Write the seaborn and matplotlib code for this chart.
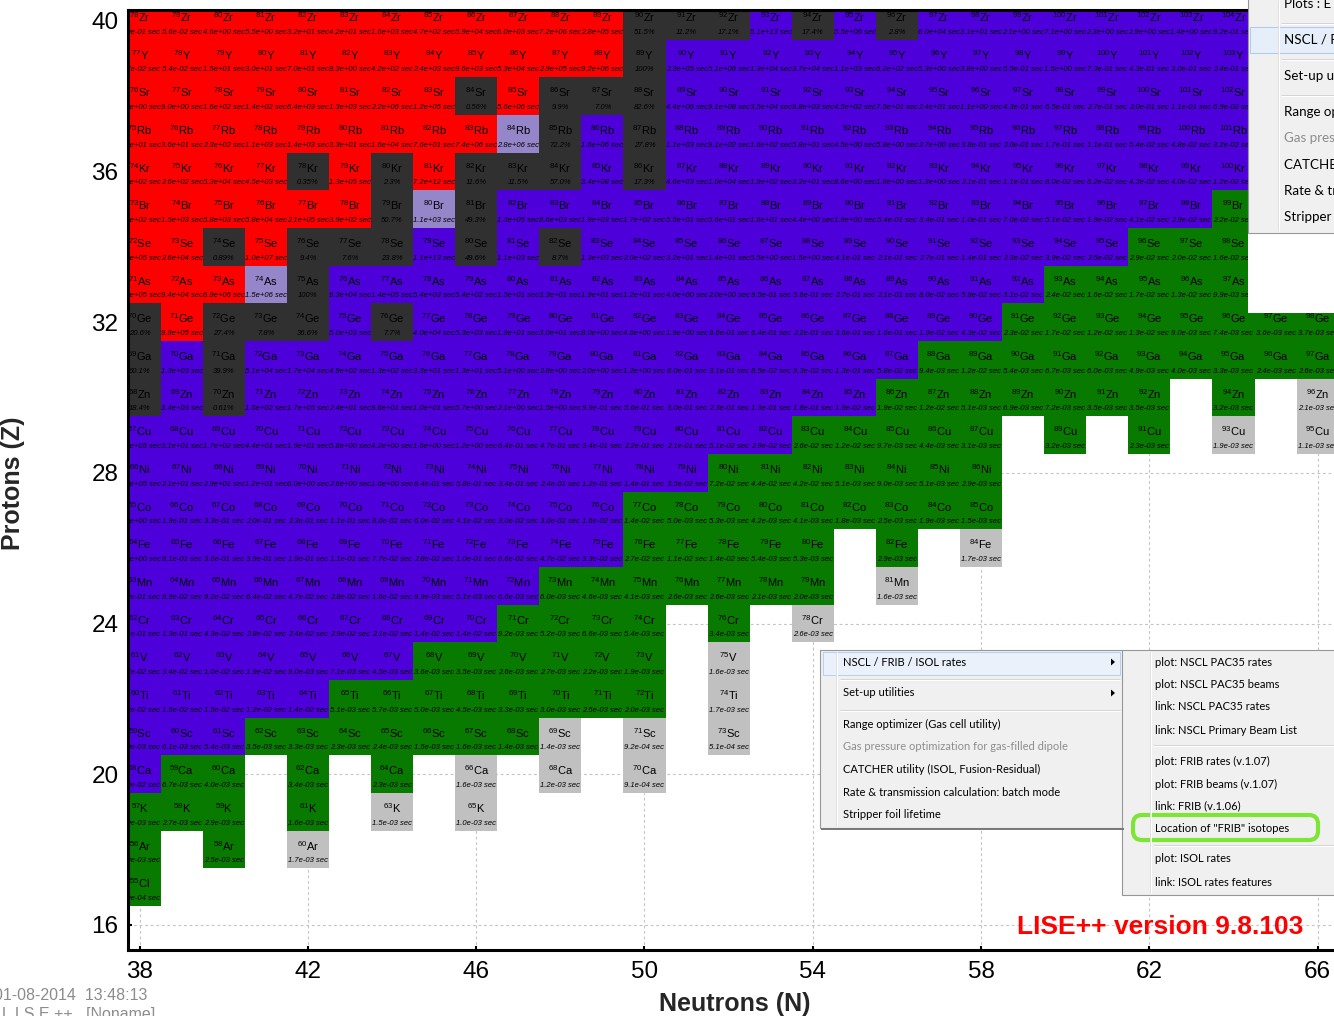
import matplotlib
matplotlib.use("Agg")
import matplotlib.pyplot as plt
from matplotlib.colors import ListedColormap
from matplotlib.patches import Rectangle, FancyBboxPatch, Polygon
import numpy as np
import pandas as pd
import seaborn as sns

W, H = 1334, 1016

# ---------------------------------------------------------------- data
neutrons = list(range(38, 67))
protons = list(range(40, 15, -1))
symbols = ["Zr", "Y", "Sr", "Rb", "Kr", "Br", "Se", "As", "Ge", "Ga", "Zn", "Cu", "Ni",
           "Co", "Fe", "Mn", "Cr", "V", "Ti", "Sc", "Ca", "K", "Ar", "Cl", "S"]

# Cell class for N = 38..66, one string per Z (40 down to 16)
# R proton-rich, S stable, B neutron-rich, G FRIB reach, U beyond reach, L mixed decay, . none
kind_rows = [
    "RRRRRRRRRRRRSSSBSBSBBBBBBBB..",  # Zr
    "RRRRRRRRRRRRSBBBBBBBBBBBBBB..",  # Y
    "RRRRRRRRSRSSSBBBBBBBBBBBBBB..",  # Sr
    "RRRRRRRRRLSBSBBBBBBBBBBBBBB..",  # Rb
    "RRRRSRSRSSSBSBBBBBBBBBBBBBB..",  # Kr
    "RRRRRRSLSBBBBBBBBBBBBBBBBBG..",  # Br
    "RRSRSSSBSBSBBBBBBBBBBBBBGGG..",  # Se
    "RRRLSBBBBBBBBBBBBBBBBBGGGGG..",  # As
    "SRSSSBSBBBBBBBBBBBBBBGGGGGGGG",  # Ge
    "SBSBBBBBBBBBBBBBBBBGGGGGGGGGG",  # Ga
    "SBSBBBBBBBBBBBBBBBGGGGGGG.G.U",  # Zn
    "BBBBBBBBBBBBBBBBGGGGG.G.G.U.U",  # Cu
    "BBBBBBBBBBBBBBGGGGGGG........",  # Ni
    "BBBBBBBBBBBBGGGGGGGGG........",  # Co
    "BBBBBBBBBBBBGGGGG.G.U........",  # Fe
    "BBBBBBBBBBGGGGGGG.U..........",  # Mn
    "BBBBBBBBBGGGG.G.U............",  # Cr
    "BBBBBBBGGGGGG.U..............",  # V
    "BBBBBGGGGGGGG.U..............",  # Ti
    "BBBGGGGGGGU.U.U..............",  # Sc
    "BGG.G.G.U.U.U................",  # Ca
    "GGG.G.U.U....................",  # K
    "G.G.U........................",  # Ar
    "G............................",  # Cl
    ".............................",  # S
]

# Half-life in seconds, or natural abundance, per cell (from N = 38)
note_rows = [
    "5.0e-01 5.6e-02 4.6e+00 5.5e+00 3.2e+01 4.2e+01 1.6e+03 4.7e+02 5.9e+04 6.0e+03 7.2e+06 2.8e+05 "
    "51.5% 11.2% 17.1% 5.1e+13 17.4% 5.5e+06 2.8% 6.0e+04 3.1e+01 2.1e+00 7.1e+00 2.3e+00 2.9e+00 1.4e+00 9.2e-01",
    "5.7e-02 5.4e-02 1.5e+01 3.0e+01 7.0e+01 8.3e+00 4.2e+02 2.4e+03 9.6e+03 5.3e+04 2.9e+05 9.2e+06 "
    "100% 2.3e+05 5.1e+06 1.3e+04 3.7e+04 1.1e+03 6.2e+02 5.3e+00 3.8e+00 5.5e-01 1.5e+00 7.3e-01 4.3e-01 3.0e-01 2.4e-01",
    "8.9e+00 9.0e+00 1.6e+02 1.4e+02 6.4e+03 1.3e+03 2.2e+06 1.2e+05 0.56% 5.6e+06 9.9% 7.0% "
    "82.6% 4.4e+06 9.1e+08 3.5e+04 9.8e+03 4.5e+02 7.5e+01 2.4e+01 1.1e+00 4.3e-01 6.5e-01 2.7e-01 2.0e-01 1.1e-01 6.9e-02",
    "1.9e+01 3.6e+01 2.3e+02 1.1e+03 1.4e+03 3.3e+01 1.6e+04 7.6e+01 7.4e+06 2.8e+06 72.2% 1.6e+06 "
    "27.8% 1.1e+03 9.1e+02 1.6e+02 5.8e+01 4.5e+00 5.8e+00 2.7e+00 3.8e-01 2.0e-01 1.7e-01 1.1e-01 5.4e-02 4.8e-02 3.2e-02",
    "6.9e+02 2.6e+02 5.3e+04 4.5e+03 0.35% 1.3e+05 2.3% 7.2e+12 11.6% 11.5% 57.0% 3.4e+08 "
    "17.3% 4.6e+03 1.0e+04 1.9e+02 3.2e+01 8.6e+00 1.8e+00 1.3e+00 2.1e-01 1.1e-01 8.0e-02 6.2e-02 4.3e-02 4.0e-02 1.2e-02",
    "2.0e+02 1.5e+03 5.8e+03 5.8e+04 2.1e+05 3.9e+02 50.7% 1.1e+03 49.3% 1.3e+05 8.6e+03 1.9e+03 "
    "1.7e+02 5.5e+01 5.6e+01 1.6e+01 4.4e+00 1.9e+00 5.4e-01 3.4e-01 1.0e-01 7.0e-02 5.1e-02 1.9e-02 4.1e-02 2.9e-02 2.2e-02",
    "7.3e+05 2.6e+04 0.89% 1.0e+07 9.4% 7.6% 23.8% 1.1e+13 49.6% 1.1e+03 8.7% 1.3e+03 "
    "2.0e+02 3.2e+01 1.4e+01 5.5e+00 1.5e+00 4.1e-01 2.1e-01 2.7e-01 1.4e-01 2.3e-02 3.9e-02 2.5e-02 2.9e-02 2.0e-02 1.6e-02",
    "2.3e+05 9.4e+04 6.9e+06 1.5e+06 100% 9.3e+04 1.4e+05 5.4e+03 5.4e+02 1.5e+01 3.3e+01 1.9e+01 "
    "1.2e+01 4.0e+00 2.0e+00 9.5e-01 5.6e-01 2.7e-01 2.1e-01 8.0e-02 5.8e-02 3.1e-02 2.4e-02 1.6e-02 1.7e-02 1.3e-02 9.9e-03",
    "20.6% 9.9e+05 27.4% 7.8% 36.6% 5.0e+03 7.7% 4.0e+04 5.3e+03 1.9e+01 3.0e+01 8.0e+00 "
    "4.6e+00 1.9e+00 9.6e-01 6.4e-01 2.2e-01 3.6e-01 1.6e-01 1.9e-02 4.3e-02 2.3e-02 1.7e-02 1.2e-02 1.3e-02 9.0e-03 7.4e-03 "
    "3.6e-03 3.7e-03",
    "60.1% 1.3e+03 39.9% 5.1e+04 1.7e+04 4.9e+02 1.3e+02 3.3e+01 1.3e+01 5.1e+00 2.8e+00 2.0e+00 "
    "1.2e+00 6.0e-01 3.1e-01 8.5e-02 9.3e-02 1.3e-01 5.8e-02 9.4e-03 1.2e-02 5.4e-03 6.7e-03 6.0e-03 4.9e-03 4.0e-03 3.3e-03 "
    "2.4e-03 2.6e-03",
    "18.4% 3.4e+03 0.61% 1.5e+02 1.7e+05 2.4e+01 9.6e+01 1.0e+01 5.7e+00 2.1e+00 1.5e+00 9.9e-01 "
    "5.6e-01 3.0e-01 2.3e-01 1.3e-01 1.8e-01 1.9e-02 1.9e-02 1.2e-02 5.1e-03 6.9e-03 7.2e-03 3.5e-03 3.5e-03 - 3.2e-03 - 2.1e-03",
    "2.2e+05 3.1e+01 1.7e+02 4.4e+01 1.9e+01 5.8e+00 4.2e+00 1.6e+00 1.2e+00 6.4e-01 4.7e-01 3.4e-01 "
    "2.2e-01 2.1e-01 5.1e-02 2.9e-02 2.6e-02 1.2e-02 9.7e-03 4.4e-03 3.1e-03 - 3.2e-03 - 2.3e-03 - 1.9e-03 - 1.1e-03",
    "2.0e+05 2.1e+01 2.9e+01 1.2e+01 6.0e+00 2.6e+00 1.6e+00 8.4e-01 5.8e-01 3.4e-01 2.4e-01 1.2e-01 "
    "1.4e-01 3.5e-02 7.2e-02 4.4e-02 4.2e-02 5.1e-03 9.0e-03 5.1e-03 2.9e-03",
    "1.2e+00 1.9e-01 3.3e-01 2.0e-01 2.3e-01 1.1e-01 8.0e-02 6.0e-02 4.1e-02 3.0e-02 3.0e-02 1.6e-02 "
    "1.4e-02 5.0e-03 5.3e-03 4.2e-03 4.1e-03 1.8e-03 2.5e-03 1.9e-03 1.5e-03",
    "2.0e+00 8.1e-01 3.6e-01 3.9e-01 1.9e-01 1.1e-01 7.7e-02 2.8e-02 1.0e-01 6.6e-02 4.7e-02 3.3e-02 "
    "2.7e-02 1.1e-02 1.4e-02 5.4e-03 5.3e-03 - 2.9e-03 - 1.7e-03",
    "2.9e-01 8.9e-02 9.2e-02 6.4e-02 4.7e-02 2.8e-02 1.6e-02 9.9e-03 5.1e-03 6.6e-03 6.0e-03 4.6e-03 "
    "4.1e-03 2.6e-03 2.6e-03 2.1e-03 2.0e-03 - 1.6e-03",
    "2.1e-01 1.3e-01 4.3e-02 2.8e-02 2.4e-02 2.9e-02 2.1e-02 1.4e-02 1.4e-02 9.2e-03 5.2e-03 6.6e-03 "
    "5.4e-03 - 3.4e-03 - 2.6e-03",
    "4.7e-02 3.4e-02 1.0e-02 1.9e-02 9.0e-03 7.1e-03 4.5e-03 3.6e-03 3.5e-03 2.6e-03 2.7e-03 2.2e-03 "
    "1.9e-03 - 1.6e-03",
    "2.2e-02 1.5e-02 1.5e-02 1.2e-02 1.4e-02 5.1e-03 5.7e-03 5.0e-03 4.5e-03 3.3e-03 3.0e-03 2.5e-03 "
    "2.0e-03 - 1.7e-03",
    "5.0e-03 6.1e-03 5.4e-03 3.5e-03 3.3e-03 2.3e-03 2.4e-03 1.5e-03 1.6e-03 1.4e-03 1.4e-03 - 9.2e-04 - 5.1e-04",
    "3.0e-02 6.7e-03 4.0e-03 - 3.4e-03 - 2.3e-03 - 1.6e-03 - 1.2e-03 - 9.1e-04",
    "5.0e-03 2.7e-03 2.9e-03 - 1.6e-03 - 1.5e-03 - 1.0e-03",
    "4.0e-03 - 2.5e-03 - 1.7e-03",
    "8.0e-04",
    "",
]

kind_codes = {"R": 0, "S": 1, "B": 2, "G": 3, "U": 4, "L": 5}
kind_colors = ["#FF0000", "#303030", "#4E00DA", "#087A00", "#C0C0C0", "#9585C9"]

x_ticks = [38, 42, 46, 50, 54, 58, 62, 66]
y_ticks = [16, 20, 24, 28, 32, 36, 40]

menu_items = ["NSCL / FRIB / ISOL rates", "Set-up utilities", "Range optimizer (Gas cell utility)",
              "Gas pressure optimization for gas-filled dipole", "CATCHER utility (ISOL, Fusion-Residual)",
              "Rate & transmission calculation: batch mode", "Stripper foil lifetime"]
submenu_items = ["plot: NSCL PAC35 rates", "plot: NSCL PAC35 beams", "link: NSCL PAC35 rates",
                 "link: NSCL Primary Beam List", "plot: FRIB rates (v.1.07)", "plot: FRIB beams (v.1.07)",
                 "link: FRIB (v.1.06)", "Location of \"FRIB\" isotopes", "plot: ISOL rates",
                 "link: ISOL rates features"]

# ---------------------------------------------------------------- build table
assert all(len(r) == len(neutrons) for r in kind_rows)
codes = np.full((len(protons), len(neutrons)), np.nan)
notes = []
for i, row in enumerate(kind_rows):
    for j, k in enumerate(row):
        if k != ".":
            codes[i, j] = kind_codes[k]
    toks = note_rows[i].split()
    toks += ["-"] * (len(neutrons) - len(toks))
    notes.append(toks)
grid = pd.DataFrame(codes, index=protons, columns=neutrons)

# ---------------------------------------------------------------- style
sns.set_theme(style="white")
plt.rcParams["font.family"] = ["Liberation Sans", "DejaVu Sans"]
plt.rcParams["mathtext.fontset"] = "custom"
plt.rcParams["mathtext.rm"] = "Liberation Sans"
plt.rcParams["mathtext.it"] = "Liberation Sans:italic"
plt.rcParams["mathtext.default"] = "regular"

fig = plt.figure(figsize=(W / 100, H / 100), dpi=100)
fig.patch.set_facecolor("white")
ax_l, ax_r, ax_b, ax_t = 127.5, 1334, 950, 9.5
ax = fig.add_axes([ax_l / W, 1 - ax_b / H, (ax_r - ax_l) / W, (ax_b - ax_t) / H])

sns.heatmap(grid, mask=grid.isna(), cmap=ListedColormap(kind_colors), vmin=-0.5, vmax=5.5,
            cbar=False, linewidths=0, xticklabels=False, yticklabels=False, ax=ax)

# cell labels: isotope and half-life / abundance
for i, z in enumerate(protons):
    for j, n in enumerate(neutrons):
        if kind_rows[i][j] == ".":
            continue
        ax.text(j + 0.5, i + 0.40, rf"$^{{{n + z}}}$" + symbols[i], ha="center", va="center",
                fontsize=8.0, color="black", clip_on=True)
        note = notes[i][j]
        txt = note if note.endswith("%") else note + " sec"
        ax.text(j + 0.5, i + 0.80, txt, ha="center", va="center", fontsize=5.5,
                style="italic", color="black", clip_on=True)

# axes ranges in N / Z units
n_left, n_right = 37.711, 37.711 + (ax_r - ax_l) / 42.07
z_top, z_bottom = 40.305, 15.336
ax.set_xlim(n_left - neutrons[0] + 0.5, n_right - neutrons[0] + 0.5)
ax.set_ylim(protons[0] + 0.5 - z_bottom, protons[0] + 0.5 - z_top)

ax.set_xticks([n - neutrons[0] + 0.5 for n in x_ticks])
ax.set_xticklabels([str(n) for n in x_ticks])
ax.set_yticks([protons[0] - z + 0.5 for z in y_ticks])
ax.set_yticklabels([str(z) for z in y_ticks])
ax.tick_params(axis="both", direction="in", length=3, width=1.5, colors="black",
               labelsize=17.5, bottom=True, left=True, top=False, right=False)
ax.tick_params(axis="x", pad=8)
ax.tick_params(axis="y", pad=6.5, rotation=0)

ax.grid(True, color="#c4c4c4", lw=0.8, ls=(0, (2.5, 2.5)))
ax.set_axisbelow(True)
for side in ["left", "bottom", "top"]:
    ax.spines[side].set_visible(True)
    ax.spines[side].set_linewidth(2.2)
    ax.spines[side].set_color("black")
ax.spines["right"].set_visible(False)

ax.set_xlabel("Neutrons (N)", fontsize=18, fontweight="bold")
ax.xaxis.set_label_coords((735 - ax_l) / (ax_r - ax_l), -(1004 - ax_b) / (ax_b - ax_t))
ax.xaxis.label.set_va("center")
ax.set_ylabel("Protons (Z)", fontsize=18, fontweight="bold")
ax.yaxis.set_label_coords((13 - ax_l) / (ax_r - ax_l), (ax_b - 483) / (ax_b - ax_t))
ax.yaxis.label.set_va("center")

# ---------------------------------------------------------------- overlay (pixel space)
ui = fig.add_axes([0, 0, 1, 1], zorder=5)
ui.set_xlim(0, W)
ui.set_ylim(H, 0)
ui.axis("off")
ui.patch.set_alpha(0)

MENU_BG, MENU_EDGE = "#F0F0F0", "#979797"
menu_font = ["Lato", "DejaVu Sans"]


def box(x0, y0, x1, y1, **kw):
    ui.add_patch(Rectangle((x0, y0), x1 - x0, y1 - y0, **kw))


def line(xs, ys, color, lw=1.0):
    ui.plot(xs, ys, color=color, lw=lw * 0.72, solid_capstyle="butt")


ui.text(1160, 927, "LISE++ version 9.8.103", color="#FF0000", fontweight="bold",
        fontsize=19.0, ha="center", va="center")
ui.text(147, 996, "01-08-2014  13:48:13", color="#8c8c8c", fontsize=11.5, ha="right", va="center")
ui.text(155, 1014, "L I S E ++   [Noname]", color="#8c8c8c", fontsize=11.5, ha="right", va="center")

# context menu
box(820, 650, 1123, 828, fc=MENU_BG, ec=MENU_EDGE, lw=0.8)
line([821, 1124], [829, 829], "#7a7a7a", 2)
line([836, 836], [652, 826], "#E0E0E0")
line([837, 837], [652, 826], "white")
box(823, 651.5, 1120, 675, fc="#EAF1FB", ec="#B5D1F2", lw=0.7)
for ysep in (678.5, 710):
    line([840, 1120], [ysep, ysep], "#D5D5D5")
    line([840, 1120], [ysep + 1, ysep + 1], "white")
menu_y = [662, 693, 724, 747, 769, 792, 814]
for txt, yy in zip(menu_items, menu_y):
    col = "#8D8D8D" if txt.startswith("Gas") else "black"
    ui.text(843, yy, txt, fontsize=8, color=col, ha="left", va="center", family=menu_font)
for yy in menu_y[:2]:
    ui.add_patch(Polygon([[1111, yy - 3.5], [1111, yy + 3.5], [1115, yy]], closed=True, fc="black", ec="none"))

# sub-menu
box(1122, 650, 1345, 895, fc=MENU_BG, ec=MENU_EDGE, lw=0.8)
line([1150, 1150], [652, 893], "#E0E0E0")
line([1151, 1151], [652, 893], "white")
for ysep in (745, 845):
    line([1153, 1334], [ysep, ysep], "#D5D5D5")
    line([1153, 1334], [ysep + 1, ysep + 1], "white")
sub_y = [662, 685, 707, 730, 761, 784, 806, 829, 859, 882]
for txt, yy in zip(submenu_items, sub_y):
    ui.text(1155, yy, txt, fontsize=8, color="black", ha="left", va="center", family=menu_font)
ui.add_patch(FancyBboxPatch((1133, 815), 185, 25, boxstyle="round,pad=0,rounding_size=9",
                            fc="none", ec="#7DE534", lw=3.0))

# partial menu at the top right
box(1248, 0, 1334, 313, fc="white", ec="none")
box(1248, -5, 1345, 233, fc=MENU_BG, ec=MENU_EDGE, lw=0.8)
line([1278, 1278], [0, 231], "#E0E0E0")
line([1279, 1279], [0, 231], "white")
box(1250, 27, 1345, 53, fc="#E5EEF9", ec="#A9C9EE", lw=0.7)
for ysep in (22.5, 58.5, 95):
    line([1281, 1334], [ysep, ysep], "#D5D5D5")
    line([1281, 1334], [ysep + 1, ysep + 1], "white")
top_items = ["Plots : E"] + menu_items
top_y = [4, 40, 76, 112, 138, 165, 191, 217]
for txt, yy in zip(top_items, top_y):
    col = "#8D8D8D" if txt.startswith("Gas") else "black"
    ui.text(1284, yy, txt, fontsize=9.6, color=col, ha="left", va="center", family=menu_font)

fig.savefig("out.png", dpi=100)
